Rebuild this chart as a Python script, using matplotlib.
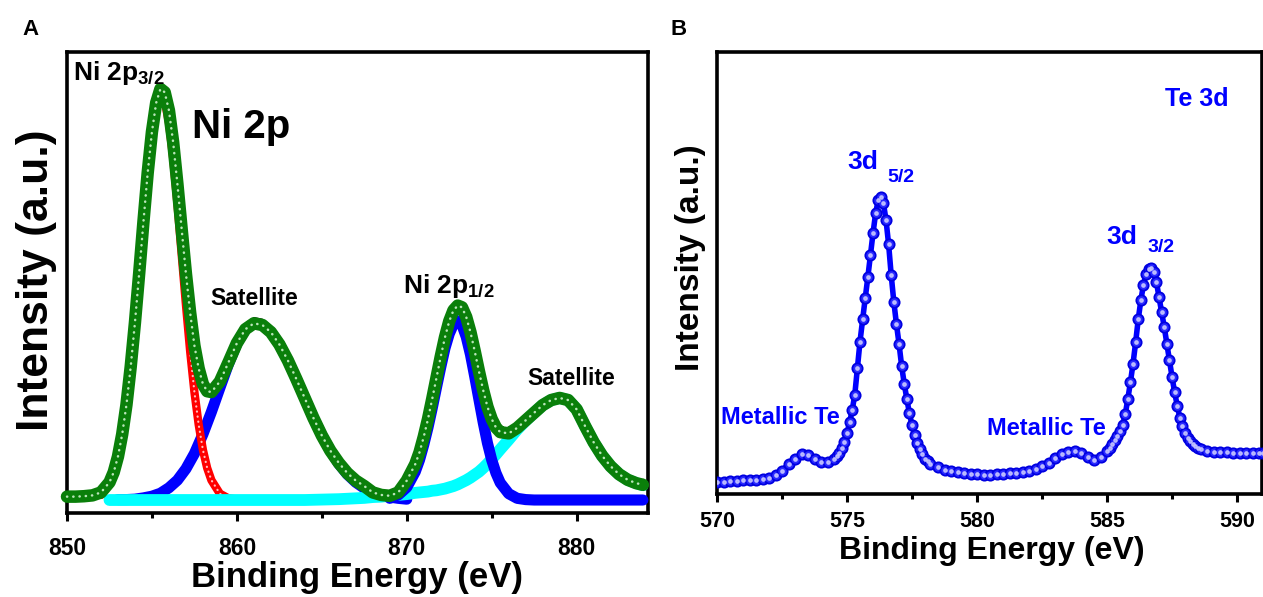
import matplotlib
matplotlib.use("Agg")
import matplotlib.pyplot as plt
from matplotlib.ticker import MultipleLocator, NullLocator

plt.rcParams['font.family'] = ['Liberation Sans', 'DejaVu Sans']
plt.rcParams['font.weight'] = 'bold'
plt.rcParams['mathtext.fontset'] = 'custom'
plt.rcParams['mathtext.rm'] = 'Liberation Sans:bold'
plt.rcParams['mathtext.it'] = 'Liberation Sans:bold'
plt.rcParams['mathtext.bf'] = 'Liberation Sans:bold'

# ---------------- Panel A : Ni 2p ----------------
be_A = [850.0, 850.5, 851.0, 851.5, 852.0, 852.5, 852.75, 853.0, 853.25, 853.5, 853.75,
        854.0, 854.25, 854.5, 854.75, 855.0, 855.25, 855.5, 855.75, 856.0, 856.25, 856.5,
        856.75, 857.0, 857.25, 857.5, 857.75, 858.0, 858.25, 858.5, 859.0, 859.5, 860.0,
        860.5, 861.0, 861.5, 862.0, 862.5, 863.0, 863.5, 864.0, 864.5, 865.0, 865.5, 866.0,
        866.5, 867.0, 867.5, 868.0, 868.5, 869.0, 869.5, 870.0, 870.5, 870.75, 871.0, 871.25,
        871.5, 871.75, 872.0, 872.25, 872.5, 872.75, 873.0, 873.25, 873.5, 873.75, 874.0,
        874.25, 874.5, 874.75, 875.0, 875.25, 875.5, 876.0, 876.5, 877.0, 877.5, 878.0,
        878.5, 879.0, 879.5, 880.0, 880.5, 881.0, 881.5, 882.0, 882.5, 883.0, 883.5, 883.9]
fit_A = [0.008, 0.008, 0.009, 0.011, 0.018, 0.042, 0.066, 0.103, 0.156, 0.226, 0.316,
         0.421, 0.538, 0.660, 0.776, 0.873, 0.942, 0.975, 0.967, 0.924, 0.848, 0.749,
         0.642, 0.537, 0.444, 0.366, 0.312, 0.275, 0.258, 0.256, 0.281, 0.326, 0.372,
         0.405, 0.419, 0.415, 0.398, 0.369, 0.331, 0.287, 0.241, 0.195, 0.153, 0.117, 0.088,
         0.064, 0.046, 0.033, 0.018, 0.012, 0.010, 0.018, 0.046, 0.085, 0.113, 0.150, 0.192,
         0.240, 0.290, 0.340, 0.386, 0.424, 0.450, 0.461, 0.457, 0.434, 0.398, 0.353,
         0.305, 0.260, 0.221, 0.192, 0.172, 0.161, 0.158, 0.171, 0.189, 0.207, 0.225,
         0.237, 0.242, 0.237, 0.215, 0.175, 0.137, 0.105, 0.080, 0.061, 0.048, 0.040, 0.036]
raw_A = [0.006, 0.014, 0.008, 0.016, 0.020, 0.042, 0.066, 0.103, 0.156, 0.226, 0.316,
         0.421, 0.538, 0.660, 0.776, 0.873, 0.942, 0.975, 0.967, 0.924, 0.848, 0.749,
         0.642, 0.537, 0.444, 0.366, 0.312, 0.275, 0.262, 0.262, 0.285, 0.330, 0.376,
         0.412, 0.432, 0.428, 0.400, 0.369, 0.331, 0.287, 0.241, 0.195, 0.153, 0.120, 0.096,
         0.078, 0.058, 0.040, 0.020, 0.012, 0.010, 0.018, 0.046, 0.085, 0.113, 0.150, 0.192,
         0.240, 0.290, 0.340, 0.386, 0.424, 0.450, 0.461, 0.457, 0.434, 0.398, 0.353,
         0.305, 0.260, 0.221, 0.192, 0.172, 0.163, 0.172, 0.180, 0.192, 0.209, 0.225,
         0.237, 0.242, 0.237, 0.215, 0.175, 0.137, 0.105, 0.080, 0.061, 0.048, 0.045, 0.048]

be_red = [852.0, 852.5, 852.75, 853.0, 853.25, 853.5, 853.75, 854.0, 854.25, 854.5, 854.75,
          855.0, 855.25, 855.5, 855.75, 856.0, 856.25, 856.5, 856.75, 857.0, 857.25, 857.5,
          857.75, 858.0, 858.25, 858.5, 859.0, 859.5, 860.0]
red_A = [0.012, 0.038, 0.063, 0.100, 0.153, 0.223, 0.312, 0.417, 0.534, 0.655, 0.769,
         0.864, 0.930, 0.959, 0.947, 0.895, 0.810, 0.702, 0.582, 0.463, 0.352, 0.256,
         0.179, 0.119, 0.076, 0.047, 0.015, 0.004, 0.001]

be_sat1 = [853.0, 853.5, 854.0, 854.5, 855.0, 855.5, 856.0, 856.5, 857.0, 857.5, 858.0,
           858.5, 859.0, 859.5, 860.0, 860.5, 861.0, 861.5, 862.0, 862.5, 863.0, 863.5,
           864.0, 864.5, 865.0, 865.5, 866.0, 866.5, 867.0, 867.5, 868.0, 868.5, 869.0,
           869.5, 870.0]
sat1_A = [0.001, 0.001, 0.002, 0.005, 0.009, 0.016, 0.029, 0.047, 0.074, 0.110, 0.156,
          0.209, 0.266, 0.322, 0.371, 0.405, 0.419, 0.415, 0.398, 0.369, 0.331, 0.287,
          0.241, 0.195, 0.153, 0.117, 0.086, 0.061, 0.042, 0.028, 0.018, 0.011, 0.007,
          0.004, 0.002]

be_p12 = [869.0, 869.5, 870.0, 870.5, 870.75, 871.0, 871.25, 871.5, 871.75, 872.0, 872.25,
          872.5, 872.75, 873.0, 873.25, 873.5, 873.75, 874.0, 874.25, 874.5, 874.75, 875.0,
          875.25, 875.5, 876.0, 876.5, 877.0, 877.5, 878.0, 879.0, 880.0, 881.0, 882.0,
          883.0, 883.9]
p12_A = [0.004, 0.012, 0.030, 0.067, 0.095, 0.131, 0.172, 0.218, 0.267, 0.315, 0.360,
         0.394, 0.417, 0.425, 0.415, 0.387, 0.345, 0.293, 0.238, 0.184, 0.135, 0.095,
         0.064, 0.041, 0.015, 0.004, 0.001, 0.0, 0.0, 0.0, 0.0, 0.0, 0.0,
         0.0, 0.0]

be_sat2 = [852.5, 855.0, 858.0, 861.0, 864.0, 866.0, 866.5, 867.0, 867.5, 868.0, 868.5,
           869.0, 869.5, 870.0, 870.5, 870.75, 871.0, 871.25, 871.5, 871.75, 872.0, 872.25,
           872.5, 872.75, 873.0, 873.25, 873.5, 873.75, 874.0, 874.25, 874.5, 874.75, 875.0,
           875.25, 875.5, 876.0, 876.5, 877.0, 877.5, 878.0, 878.5, 879.0, 879.5, 880.0,
           880.5, 881.0, 881.5, 882.0, 882.5, 883.0, 883.5, 883.9]
sat2_A = [0.0, 0.0, 0.0, 0.0, 0.0, 0.002, 0.003, 0.004, 0.005, 0.007, 0.008,
          0.010, 0.012, 0.014, 0.017, 0.018, 0.019, 0.020, 0.022, 0.023, 0.025, 0.027,
          0.030, 0.033, 0.037, 0.042, 0.047, 0.053, 0.060, 0.067, 0.076, 0.086, 0.097,
          0.108, 0.120, 0.143, 0.167, 0.188, 0.207, 0.225, 0.237, 0.242, 0.237, 0.215,
          0.175, 0.137, 0.105, 0.080, 0.061, 0.048, 0.040, 0.035]

ticks_A = [850, 860, 870, 880]

# ---------------- Panel B : Te 3d ----------------
be_B = [570.0, 570.25, 570.5, 570.75, 571.0, 571.25, 571.5, 571.75, 572.0, 572.25, 572.5,
        572.75, 573.0, 573.25, 573.5, 573.75, 574.0, 574.25, 574.5, 574.6, 574.7, 574.8,
        574.9, 575.0, 575.1, 575.2, 575.3, 575.4, 575.5, 575.6, 575.7, 575.8, 575.9, 576.0,
        576.1, 576.2, 576.3, 576.4, 576.5, 576.6, 576.7, 576.8, 576.9, 577.0, 577.1, 577.2,
        577.3, 577.4, 577.5, 577.6, 577.7, 577.8, 577.9, 578.0, 578.1, 578.2, 578.5, 578.75,
        579.0, 579.25, 579.5, 579.75, 580.0, 580.25, 580.5, 580.75, 581.0, 581.25, 581.5,
        581.75, 582.0, 582.25, 582.5, 582.75, 583.0, 583.25, 583.5, 583.75, 584.0, 584.25,
        584.5, 584.75, 585.0, 585.1, 585.2, 585.3, 585.4, 585.5, 585.6, 585.7, 585.8, 585.9,
        586.0, 586.1, 586.2, 586.3, 586.4, 586.5, 586.6, 586.7, 586.8, 586.9, 587.0, 587.1,
        587.2, 587.3, 587.4, 587.5, 587.6, 587.7, 587.8, 587.9, 588.0, 588.1, 588.2, 588.3,
        588.4, 588.5, 588.6, 588.85, 589.1, 589.35, 589.6, 589.85, 590.1, 590.35, 590.6,
        590.85, 591.0]
int_B = [2.7, 2.8, 2.9, 3.0, 3.1, 3.1, 3.2, 3.4, 3.7, 4.3, 5.3,
         6.7, 8.0, 9.0, 8.8, 7.9, 7.2, 7.3, 8.0, 8.5, 9.3, 10.3,
         11.8, 13.8, 16.2, 19.0, 22.5, 28.5, 34.5, 39.5, 44.3, 49.0, 54.0, 59.0,
         63.5, 66.5, 67.2, 65.8, 62.0, 56.5, 49.5, 43.5, 38.5, 34.0, 29.0, 25.0,
         21.5, 18.3, 15.5, 13.3, 11.6, 10.2, 9.0, 8.0, 7.4, 6.9, 6.0, 5.5,
         5.2, 5.0, 4.8, 4.6, 4.5, 4.4, 4.4, 4.5, 4.6, 4.7, 4.8,
         5.0, 5.3, 5.7, 6.3, 7.1, 8.2, 9.0, 9.6, 9.8, 9.2, 8.3,
         7.8, 8.4, 9.8, 10.5, 11.3, 12.2, 13.2, 14.3, 15.6, 18.0, 21.5, 25.3,
         29.5, 34.3, 39.5, 43.8, 47.3, 49.8, 51.0, 51.2, 50.3, 48.0, 44.5, 41.2,
         37.8, 34.0, 30.3, 26.5, 23.0, 20.0, 17.3, 15.3, 13.8, 12.7, 11.9, 11.3,
         10.8, 10.4, 10.1, 9.8, 9.6, 9.5, 9.4, 9.3, 9.3, 9.2, 9.2,
         9.2, 9.2]
ticks_B = [570, 575, 580, 585, 590]

# ---------------- Figure ----------------
W, H = 1263, 597
fig = plt.figure(figsize=(W / 100, H / 100), dpi=100)


def rect(l, r, t, b):
    return [l / W, 1 - b / H, (r - l) / W, (b - t) / H]


axA = fig.add_axes(rect(67, 648, 52, 513))
axB = fig.add_axes(rect(717, 1262, 52, 494))

GREEN = '#0a7f0a'
# Panel A curves
axA.plot(be_sat1, sat1_A, color='#0000ff', lw=8, solid_capstyle='round', zorder=2)
axA.plot(be_red, red_A, color='#ff0000', lw=6, solid_capstyle='round', zorder=3)
axA.plot(be_red, red_A, color='#ffc0c0', lw=1.6, ls=(0, (0.1, 2.2)),
         dash_capstyle='round', zorder=3.1)
axA.plot(be_sat2, sat2_A, color='#00ffff', lw=8.5, solid_capstyle='round', zorder=4)
axA.plot(be_p12, p12_A, color='#0000ff', lw=8, solid_capstyle='round', zorder=5,
         clip_on=False)
axA.plot(be_A, raw_A, color='black', lw=1.3, zorder=6, clip_on=False)
axA.plot(be_A, fit_A, color=GREEN, lw=9, solid_capstyle='round', zorder=7,
         clip_on=False)
axA.plot(be_A, fit_A, color='#e6ffe6', lw=1.8, ls=(0, (0.1, 2.4)),
         dash_capstyle='round', alpha=0.8, zorder=8, clip_on=False)

axA.set_xlim(850, 884.2)
axA.set_ylim(-0.0308, 1.0624)
axA.set_xticks(ticks_A)
axA.set_xticklabels([str(t) for t in ticks_A])
axA.xaxis.set_minor_locator(MultipleLocator(5))
axA.yaxis.set_major_locator(NullLocator())
axA.tick_params(axis='x', which='major', direction='out', length=6, width=2.2,
                labelsize=16.5, pad=11)
axA.tick_params(axis='x', which='minor', direction='out', length=3.5, width=2.2)
for s in axA.spines.values():
    s.set_linewidth(2.6)

axA.set_xlabel('Binding Energy (eV)', fontsize=25, fontweight='bold', va='center')
axA.xaxis.set_label_coords(0.499, -0.139)
axA.set_ylabel('Intensity (a.u.)', fontsize=32, fontweight='bold', va='center')
axA.yaxis.set_label_coords(-0.053, 0.505)

axA.text(850.35, 0.996, r'Ni 2p$_{3/2}$', fontsize=19, fontweight='bold',
         va='baseline', ha='left', zorder=10)
axA.text(857.35, 0.858, 'Ni 2p', fontsize=29, fontweight='bold',
         va='baseline', ha='left', zorder=10)
axA.text(858.41, 0.462, 'Satellite', fontsize=16.5, fontweight='bold',
         va='baseline', ha='left', zorder=10)
axA.text(869.8, 0.492, r'Ni 2p$_{1/2}$', fontsize=19, fontweight='bold',
         va='baseline', ha='left', zorder=10)
axA.text(877.1, 0.273, 'Satellite', fontsize=16.5, fontweight='bold',
         va='baseline', ha='left', zorder=10)

# Panel B curve
BLUE = '#0000ff'
axB.plot(be_B, int_B, '-o', color=BLUE, lw=4.0, ms=7.4, mfc='#2a2aff', mec='#0000e0',
         mew=1.3, zorder=3)
axB.plot(be_B, int_B, 'o', ms=2.4, color='#c8c8ff', alpha=0.85, zorder=4)

axB.set_xlim(570, 590.96)
axB.set_ylim(0, 100)
axB.set_xticks(ticks_B)
axB.set_xticklabels([str(t) for t in ticks_B])
axB.xaxis.set_minor_locator(MultipleLocator(2.5))
axB.yaxis.set_major_locator(NullLocator())
axB.tick_params(axis='x', which='major', direction='out', length=6, width=2.2,
                labelsize=15.5, pad=6)
axB.tick_params(axis='x', which='minor', direction='out', length=3.5, width=2.2)
for s in axB.spines.values():
    s.set_linewidth(2.6)

axB.set_xlabel('Binding Energy (eV)', fontsize=23, fontweight='bold', va='center')
axB.xaxis.set_label_coords(0.505, -0.129)
axB.set_ylabel('Intensity (a.u.)', fontsize=24, fontweight='bold', va='center')
axB.yaxis.set_label_coords(-0.0495, 0.535)

axB.text(587.23, 87.8, 'Te 3d', color=BLUE, fontsize=18, fontweight='bold',
         va='baseline', ha='left')
axB.text(575.0, 73.5, '3d', color=BLUE, fontsize=19, fontweight='bold',
         va='baseline', ha='left')
axB.text(576.54, 70.5, '5/2', color=BLUE, fontsize=14, fontweight='bold',
         va='baseline', ha='left')
axB.text(584.96, 56.6, '3d', color=BLUE, fontsize=19, fontweight='bold',
         va='baseline', ha='left')
axB.text(586.54, 54.8, '3/2', color=BLUE, fontsize=14, fontweight='bold',
         va='baseline', ha='left')
axB.text(570.15, 15.8, 'Metallic Te', color=BLUE, fontsize=17, fontweight='bold',
         va='baseline', ha='left', zorder=5)
axB.text(580.38, 13.3, 'Metallic Te', color=BLUE, fontsize=17, fontweight='bold',
         va='baseline', ha='left', zorder=5)

# Panel letters
fig.text(22 / W, 1 - 35 / H, 'A', fontsize=16, fontweight='bold', va='baseline')
fig.text(670 / W, 1 - 35 / H, 'B', fontsize=16, fontweight='bold', va='baseline')

fig.savefig('out.png', dpi=100)
